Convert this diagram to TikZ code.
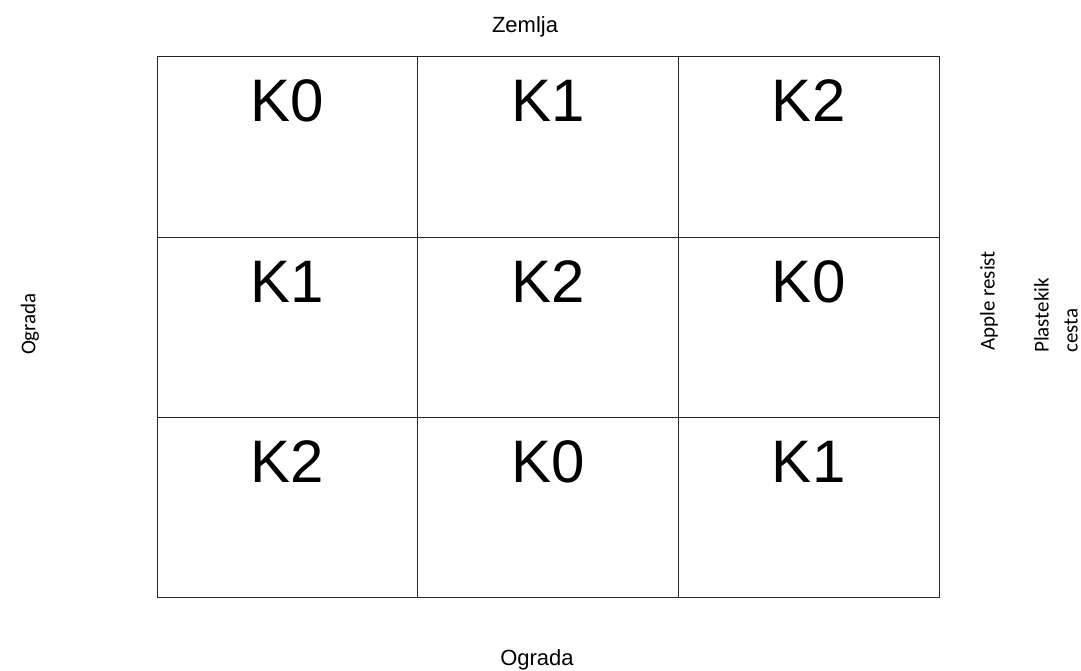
\documentclass[tikz,border=0pt]{standalone}
\usepackage{fontspec}
\setmainfont{Liberation Sans}
\newfontfamily\calib{Carlito}
\usetikzlibrary{calc}
\tikzset{
  cell/.style={draw=black!85, line width=1pt, minimum width=260.67pt, minimum height=180pt, inner sep=0pt, outer sep=0pt, anchor=north west},
  klab/.style={font=\fontsize{60}{72}\selectfont, anchor=base, inner sep=0pt},
  edgelab/.style={font=\fontsize{22}{26}\selectfont, anchor=base, inner sep=0pt},
  sidelab/.style={font=\calib\fontsize{21}{29}\selectfont, inner sep=0pt, rotate=90, align=left}
}
\begin{document}
\begin{tikzpicture}[x=1pt, y=-1pt]
\useasboundingbox (0,0) rectangle (1081,671);
% grid cells
\foreach \r/\row in {0/57, 1/237, 2/417} {
  \foreach \c/\col in {0/157, 1/417.67, 2/678.33} {
    \node[cell] (c\r\c) at (\col,\row) {};
  }
}
% labels
\foreach \r/\c/\t in {0/0/K0, 0/1/K1, 0/2/K2, 1/0/K1, 1/1/K2, 1/2/K0, 2/0/K2, 2/1/K0, 2/2/K1} {
  \node[klab] (k\r\c) at ($(c\r\c.north)+(0,65)$) {\t};
}
\node[edgelab] (zemlja) at (525,33) {Zemlja};
\node[edgelab] (ogradab) at (537,665.5) {Ograda};
\node[sidelab] (ogradal) at (30,324) {Ograda};
\node[sidelab, anchor=west] (apple) at (989,351) {Apple resist};
\node[sidelab, anchor=west] (plast) at (1056,353) {Plastekik\\cesta};
\end{tikzpicture}
\end{document}
